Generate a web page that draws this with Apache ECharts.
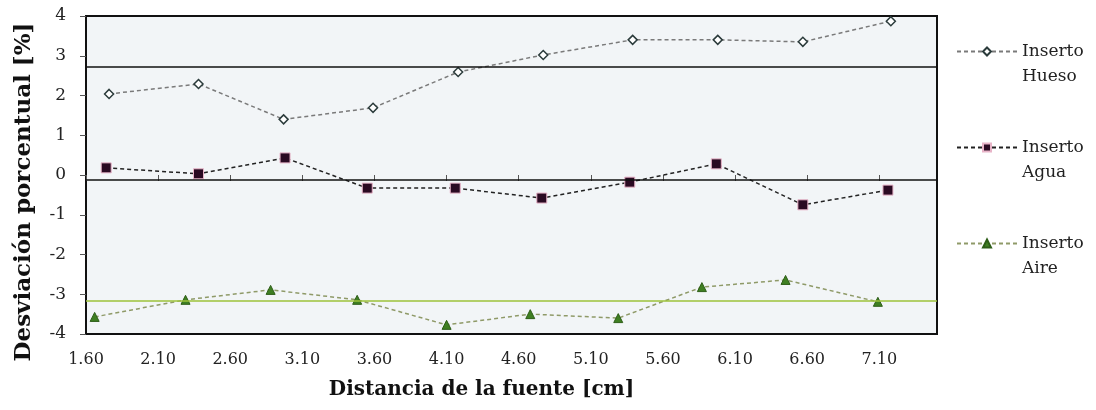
<!DOCTYPE html>
<html>
<head>
<meta charset="utf-8">
<script src="https://cdn.jsdelivr.net/npm/echarts@6/dist/echarts.min.js"></script>
<style>html,body{margin:0;padding:0;background:#fff}#c{width:1096px;height:410px}</style>
</head>
<body>
<div id="c"></div>
<script>
// Data
const seriesNames = ['Inserto\nHueso', 'Inserto\nAgua', 'Inserto\nAire'];
const huesoX = [1.76, 2.38, 2.97, 3.59, 4.18, 4.77, 5.39, 5.98, 6.57, 7.18];
const huesoY = [2.04, 2.29, 1.40, 1.69, 2.59, 3.02, 3.40, 3.40, 3.35, 3.87];
const aguaX = [1.74, 2.38, 2.98, 3.55, 4.16, 4.76, 5.37, 5.97, 6.57, 7.16];
const aguaY = [0.18, 0.03, 0.43, -0.33, -0.33, -0.58, -0.18, 0.28, -0.75, -0.38];
const aireX = [1.66, 2.29, 2.88, 3.48, 4.10, 4.68, 5.29, 5.87, 6.45, 7.09];
const aireY = [-3.57, -3.14, -2.89, -3.14, -3.77, -3.50, -3.60, -2.82, -2.64, -3.19];
const meanLines = [2.72, -0.13, -3.17];
const xTitle = 'Distancia de la fuente [cm]';
const yTitle = 'Desviación porcentual [%]';

const pairs = (xs, ys) => xs.map((x, i) => [x, ys[i]]);
const serif = 'DejaVu Serif';

const chart = echarts.init(document.getElementById('c'), null, {renderer: 'canvas'});
chart.setOption({
  animation: false,
  backgroundColor: '#ffffff',
  grid: {left: 86, top: 16, right: 159, bottom: 76, show: true, backgroundColor: '#f2f5f7', borderColor: '#111', borderWidth: 2},
  xAxis: {
    type: 'value', min: 1.6, max: 7.5, interval: 0.5,
    name: xTitle, nameLocation: 'middle', nameGap: 46,
    nameTextStyle: {fontFamily: serif, fontWeight: 'bold', fontSize: 20, color: '#111', padding: [0, 60, 0, 0]},
    axisLine: {show: false},
    axisTick: {show: true, length: 6, lineStyle: {color: '#555', width: 1}},
    splitLine: {show: false},
    axisLabel: {showMaxLabel: false, margin: 18, fontFamily: serif, fontSize: 16, color: '#222', formatter: v => v.toFixed(2)}
  },
  yAxis: {
    type: 'value', min: -4, max: 4, interval: 1,
    name: yTitle, nameLocation: 'middle', nameGap: 50,
    nameTextStyle: {fontFamily: serif, fontWeight: 'bold', fontSize: 23, color: '#111', padding: [0, 34, 0, 0]},
    axisLine: {show: false},
    axisTick: {show: true, length: 6, lineStyle: {color: '#555', width: 1}},
    splitLine: {show: false},
    axisLabel: {margin: 20, fontFamily: serif, fontSize: 17, color: '#222'}
  },
  legend: {
    orient: 'vertical', left: 956, top: 14, padding: 0, itemWidth: 60, itemHeight: 10, itemGap: 21,
    textStyle: {fontFamily: serif, fontSize: 17, color: '#222', lineHeight: 25},
    formatter: name => ' \n' + name,
    data: seriesNames
  },
  series: [
    {
      name: seriesNames[0], type: 'line', data: pairs(huesoX, huesoY),
      symbol: 'diamond', symbolSize: 9,
      itemStyle: {color: '#ffffff', borderColor: '#2b3b3b', borderWidth: 1.5},
      lineStyle: {color: '#7a7a7a', width: 1.5, type: [4, 3]},
      markLine: {silent: true, symbol: 'none', label: {show: false}, lineStyle: {color: '#111', width: 1.5, type: 'solid'}, data: [{yAxis: meanLines[0]}]}
    },
    {
      name: seriesNames[1], type: 'line', data: pairs(aguaX, aguaY),
      symbol: 'rect', symbolSize: 10,
      itemStyle: {color: '#2a0a22', borderColor: '#e8b4c8', borderWidth: 1},
      lineStyle: {color: '#222', width: 1.5, type: [4, 3]},
      markLine: {silent: true, symbol: 'none', label: {show: false}, lineStyle: {color: '#111', width: 1.5, type: 'solid'}, data: [{yAxis: meanLines[1]}]}
    },
    {
      name: seriesNames[2], type: 'line', data: pairs(aireX, aireY),
      symbol: 'triangle', symbolSize: 9,
      itemStyle: {color: '#3f7f22', borderColor: '#2e5e18', borderWidth: 1},
      lineStyle: {color: '#8f9a68', width: 1.5, type: [4, 3]},
      markLine: {silent: true, symbol: 'none', label: {show: false}, lineStyle: {color: '#9cc23a', width: 1.5, type: 'solid'}, data: [{yAxis: meanLines[2]}]}
    }
  ]
});
</script>
</body>
</html>
